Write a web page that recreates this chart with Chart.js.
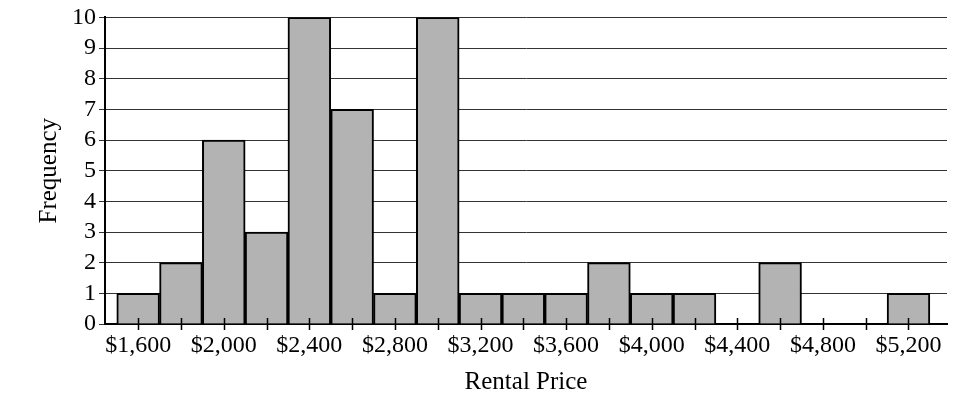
<!DOCTYPE html>
<html>
<head>
<meta charset="utf-8">
<script src="https://cdn.jsdelivr.net/npm/chart.js@4.4.0/dist/chart.umd.min.js"></script>
<style>
    html, body { margin: 0; padding: 0; background: #fff; }
    #wrap { width: 961px; height: 411px; position: relative; }
</style>
</head>
<body>
<div id="wrap"><canvas id="rentChart"></canvas></div>
<script>
// bin centres ($200 wide bins) and how many rentals fell in each
const binCenters = [1600, 1800, 2000, 2200, 2400, 2600, 2800, 3000, 3200, 3400,
                    3600, 3800, 4000, 4200, 4400, 4600, 4800, 5000, 5200];
const frequencies = [1, 2, 6, 3, 10, 7, 1, 10, 1, 1, 1, 2, 1, 1, 0, 2, 0, 0, 1];
const tickValues = [1600, 1800, 2000, 2200, 2400, 2600, 2800, 3000, 3200, 3400,
                    3600, 3800, 4000, 4200, 4400, 4600, 4800, 5000, 5200];
const labelledTicks = [1600, 2000, 2400, 2800, 3200, 3600, 4000, 4400, 4800, 5200];

const serif = "'Liberation Serif', 'DejaVu Serif', serif";

// little tick marks that cross the x axis line
const crossTicks = {
    id: "crossTicks",
    afterDatasetsDraw(chart) {
        const ctx = chart.ctx;
        const x = chart.scales.x;
        const bottom = chart.chartArea.bottom;
        ctx.save();
        ctx.strokeStyle = "#000";
        ctx.lineWidth = 1.5;
        tickValues.forEach(v => {
            const px = Math.round(x.getPixelForValue(v)) + 0.5;
            ctx.beginPath();
            ctx.moveTo(px, bottom - 6);
            ctx.lineTo(px, bottom + 6);
            ctx.stroke();
        });
        ctx.restore();
    }
};

const ctx = document.getElementById("rentChart").getContext("2d");
new Chart(ctx, {
    type: "bar",
    data: {
        datasets: [{
            data: binCenters.map((c, i) => ({ x: c, y: frequencies[i] })),
            backgroundColor: "#b3b3b3",
            borderColor: "#000",
            borderWidth: 2,
            barPercentage: 1,
            categoryPercentage: 1,
        }]
    },
    options: {
        responsive: true,
        maintainAspectRatio: false,
        animation: false,
        layout: { padding: { top: 16, right: 14, left: 34, bottom: 14 } },
        plugins: { legend: { display: false }, tooltip: { enabled: false } },
        scales: {
            x: {
                type: "linear",
                min: 1445,
                max: 5380,
                offset: false,
                bounds: "data",
                afterBuildTicks: (scale) => { scale.ticks = tickValues.map(v => ({ value: v })); },
                afterFit: (scale) => { scale.height = 73; },
                grid: { display: false, offset: false },
                border: { display: true, color: "#000", width: 2 },
                ticks: {
                    autoSkip: false,
                    maxRotation: 0,
                    padding: -1,
                    color: "#000",
                    font: { family: serif, size: 24 },
                    callback: (v) => labelledTicks.includes(v) ? "$" + v.toLocaleString("en-US") : "",
                },
                title: {
                    display: true,
                    text: "Rental Price",
                    color: "#000",
                    font: { family: serif, size: 25 },
                    padding: { top: 4, bottom: 0 },
                },
            },
            y: {
                min: 0,
                max: 10,
                afterFit: (scale) => { scale.width = 71; },
                grid: { color: "#333", lineWidth: 1, tickLength: 6 },
                border: { display: true, color: "#000", width: 2 },
                ticks: {
                    stepSize: 1,
                    autoSkip: false,
                    padding: 3,
                    color: "#000",
                    font: { family: serif, size: 24 },
                },
                title: {
                    display: true,
                    text: "Frequency",
                    color: "#000",
                    font: { family: serif, size: 25 },
                    padding: { top: 0, bottom: 0 },
                },
            },
        },
    },
    plugins: [crossTicks],
});
</script>
</body>
</html>
